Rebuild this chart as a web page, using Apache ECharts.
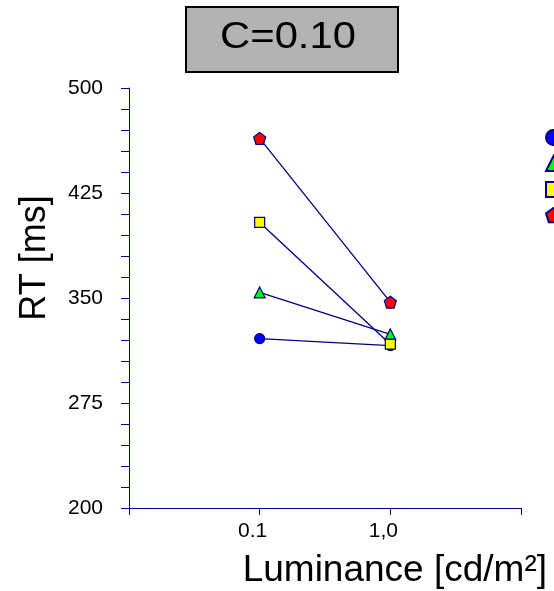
<!DOCTYPE html>
<html>
<head>
<meta charset="utf-8">
<script src="https://cdn.jsdelivr.net/npm/echarts@6/dist/echarts.min.js"></script>
<style>
  html, body { margin: 0; padding: 0; background: #ffffff; }
  #chart { width: 554px; height: 591px; }
</style>
</head>
<body>
<div id="chart"></div>
<script>
// Luminance conditions (positions 1 and 2 on the x axis)
const luminanceLabels = ['0.1', '1,0'];
const luminancePos = [1, 2];

// Reaction times [ms] for the four conditions
const seriesNames = ['A', 'B', 'C', 'D'];
const rtCircle   = [321, 316];
const rtTriangle = [354, 324];
const rtSquare   = [404, 317];
const rtPentagon = [464, 347];

// y axis: labelled every 75 ms, ticks every 15 ms
const yMin = 200, yMax = 500, yTickStep = 15, yLabelStep = 75;

const navy = '#000080';
const font = '"Liberation Sans", Arial, sans-serif';
const pentagonPath = 'path://M0,-10 L9.51,-3.09 L5.88,8.09 L-5.88,8.09 L-9.51,-3.09 Z';

function pairs(vals) {
  return luminancePos.map((x, i) => [x, vals[i]]);
}

const styles = [
  { vals: rtCircle,   symbol: 'circle',   size: 10, color: '#0000ff' },
  { vals: rtTriangle, symbol: 'triangle', size: 11, color: '#00ff00' },
  { vals: rtSquare,   symbol: 'rect',     size: 10, color: '#ffff00' },
  { vals: rtPentagon, symbol: pentagonPath, size: 12, color: '#ff0000' }
];

const chart = echarts.init(document.getElementById('chart'), null, { renderer: 'canvas' });

chart.setOption({
  animation: false,
  backgroundColor: '#ffffff',
  graphic: [
    {
      type: 'rect',
      shape: { x: 186, y: 7, width: 212, height: 65 },
      style: { fill: '#b3b3b3', stroke: '#000000', lineWidth: 2 }
    },
    {
      type: 'text',
      x: 288, y: 38,
      scaleX: 1.16,
      style: {
        text: 'C=0.10',
        font: '36px ' + font,
        fill: '#000000',
        align: 'center',
        verticalAlign: 'middle'
      }
    }
  ],
  legend: {
    orient: 'vertical',
    left: 540,
    top: 124,
    itemWidth: 15,
    itemHeight: 15,
    itemGap: 9,
    formatter: () => '',
    textStyle: { fontSize: 10, lineHeight: 10 },
    data: seriesNames.map((n, i) => ({
      name: n,
      icon: styles[i].symbol
    }))
  },
  grid: { left: 129, right: 33, top: 88, bottom: 83 },
  xAxis: {
    type: 'value',
    min: 0,
    max: 3,
    interval: 1,
    name: 'Luminance [cd/m²]',
    nameLocation: 'end',
    nameGap: 26,
    nameTextStyle: {
      fontFamily: font, fontSize: 37, color: '#000000',
      align: 'right', verticalAlign: 'top', padding: [44, 0, 0, 0]
    },
    axisLine: { show: true, lineStyle: { color: navy, width: 1 } },
    axisTick: { show: true, length: 7, lineStyle: { color: navy } },
    splitLine: { show: false },
    axisLabel: {
      margin: 13,
      padding: [0, 14, 0, 0],
      fontFamily: font, fontSize: 21, color: '#000000',
      formatter: v => {
        const i = luminancePos.indexOf(v);
        return i >= 0 ? luminanceLabels[i] : '';
      }
    }
  },
  yAxis: {
    type: 'value',
    min: yMin,
    max: yMax,
    interval: yTickStep,
    name: 'RT [ms]',
    nameLocation: 'middle',
    nameGap: 76,
    nameTextStyle: {
      fontFamily: font, fontSize: 36, color: '#000000',
      padding: [0, 0, 0, 80]
    },
    axisLine: { show: true, lineStyle: { color: navy, width: 1 } },
    axisTick: { show: true, length: 8, lineStyle: { color: navy } },
    splitLine: { show: false },
    axisLabel: {
      margin: 26,
      fontFamily: font, fontSize: 21, color: '#000000',
      formatter: v => ((v - yMin) % yLabelStep === 0 ? String(v) : '')
    }
  },
  series: styles.map((s, i) => ({
    name: seriesNames[i],
    type: 'line',
    data: pairs(s.vals),
    symbol: s.symbol,
    symbolSize: s.size,
    showAllSymbol: true,
    lineStyle: { color: navy, width: 1.3 },
    itemStyle: { color: s.color, borderColor: navy, borderWidth: 1.2 },
    emphasis: { disabled: true }
  }))
});
</script>
</body>
</html>
